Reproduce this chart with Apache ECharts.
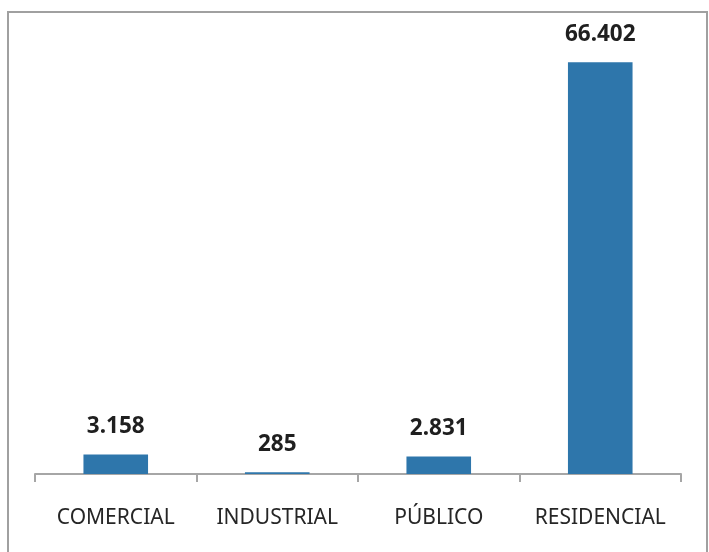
<!DOCTYPE html>
<html>
<head>
<meta charset="utf-8">
<script src="https://cdn.jsdelivr.net/npm/echarts@6/dist/echarts.min.js"></script>
<style>
html,body{margin:0;padding:0;background:#fff;}
#chart{width:709px;height:552px;}
</style>
</head>
<body>
<div id="chart"></div>
<script>
const categories = ['COMERCIAL', 'INDUSTRIAL', 'PÚBLICO', 'RESIDENCIAL'];
const values = [3158, 285, 2831, 66402];

const chart = echarts.init(document.getElementById('chart'), null, {renderer: 'canvas'});
const fmt = v => v.toLocaleString('de-DE');
chart.setOption({
  animation: false,
  backgroundColor: '#ffffff',
  grid: {left: 35, right: 28, top: 40, bottom: 78},
  xAxis: {
    type: 'category',
    data: categories,
    axisLine: {lineStyle: {color: '#a6a6a6', width: 2}},
    axisTick: {show: true, interval: 0, length: 8, lineStyle: {color: '#a6a6a6', width: 2}},
    axisLabel: {interval: 0, color: '#262626', fontSize: 21, fontFamily: 'Noto Sans', margin: 34}
  },
  yAxis: {
    type: 'value',
    min: 0,
    max: 70000,
    show: false,
    splitLine: {show: false}
  },
  series: [{
    type: 'bar',
    data: values,
    barWidth: '40%',
    itemStyle: {color: '#2e76ab'},
    label: {
      show: true,
      position: 'top',
      distance: 16,
      color: '#1f1f1f',
      fontSize: 22.5,
      fontWeight: 'bold',
      fontFamily: 'Noto Sans',
      formatter: p => fmt(p.value)
    }
  }],
  graphic: [{
    type: 'polyline',
    shape: {points: [[8, 552], [8, 12], [707, 12], [707, 552]]},
    style: {stroke: '#a0a0a0', lineWidth: 2, fill: null},
    silent: true
  }]
});
</script>
</body>
</html>
